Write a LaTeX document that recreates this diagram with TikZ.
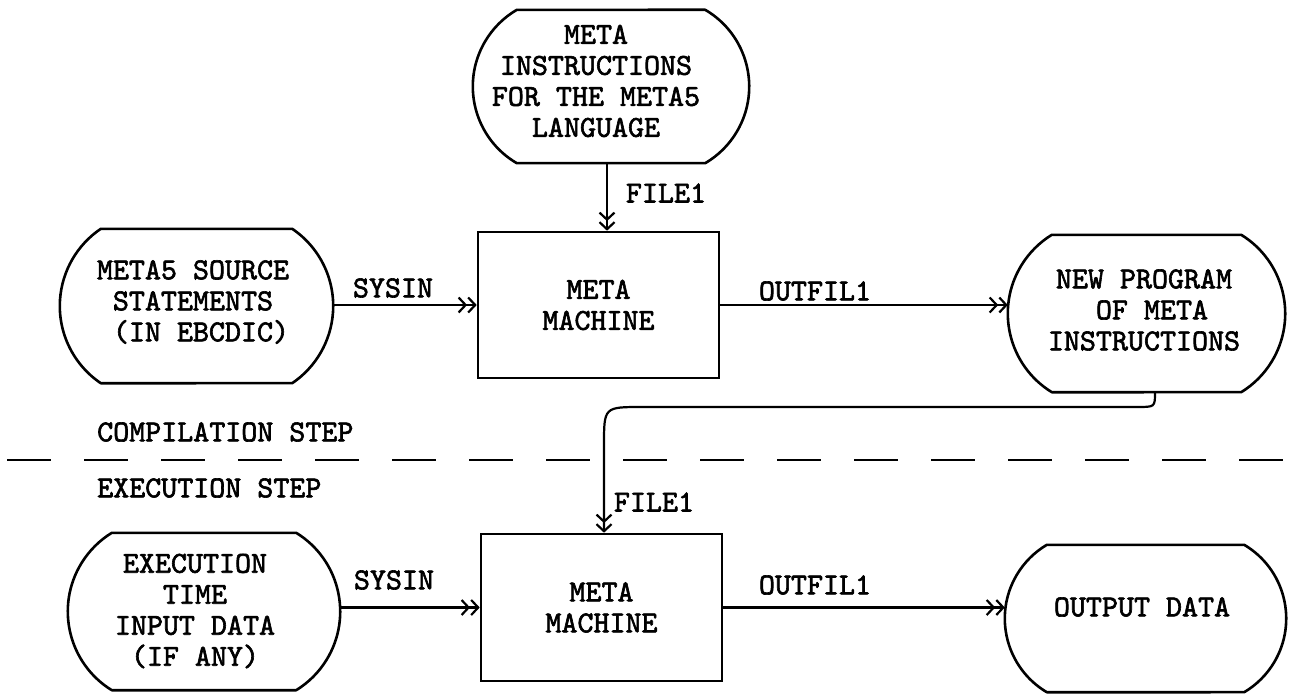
\documentclass[tikz,border=0pt]{standalone}
\usepackage{fontspec}
\newfontfamily\tw{lmmono10-regular.otf}[FakeBold=2]
\usetikzlibrary{arrows.meta,calc}
\tikzset{
  txt/.style={font=\tw\fontsize{30.5}{31}\selectfont, inner sep=0pt, align=center},
  termnode/.style={inner sep=0pt},
  box/.style={txt, draw, line width=2.6pt},
  shapeline/.style={line width=2.6pt, line join=round},
  arr/.style={line width=2.2pt, -{Straight Barb[length=7pt,width=15pt] Straight Barb[length=7pt,width=15pt]}},
  divider/.style={line width=2.6pt, dash pattern=on 44pt off 33pt}
}
\newcommand\termdraw[2]{%
  \draw[shapeline] let \p1=(#1.north west), \p2=(#1.south east),
    \n1={(\y1-\y2)/2}, \n2={(\n1*\n1+#2*#2)/(2*#2)}, \n3={asin(\n1/\n2)} in
    (\x2-#2pt,\y1) arc[start angle=\n3, end angle=-\n3, radius=\n2]
    -- (\x1+#2pt,\y2) arc[start angle=180+\n3, end angle=180-\n3, radius=\n2] -- cycle;}
\begin{document}
\begin{tikzpicture}[x=1pt,y=-1pt]
\useasboundingbox (0,0) rectangle (1289,695);
% terminal shapes
\node[termnode, minimum width=276pt, minimum height=153pt] (top) at (611,86.5) {};
\termdraw{top}{44}
\node[txt] (topt) at (596,81) {META\\INSTRUCTIONS\\FOR THE META5\\LANGUAGE};
\node[termnode, minimum width=273pt, minimum height=154pt] (src) at (196.5,306) {};
\termdraw{src}{41}
\node[txt] (srct) at (193,302) {META5 SOURCE\\STATEMENTS\\\phantom{X}(IN EBCDIC)};
\node[termnode, minimum width=277pt, minimum height=157pt] (newp) at (1146.5,313.5) {};
\termdraw{newp}{44}
\node[txt] (newpt) at (1144,310) {NEW PROGRAM\\\phantom{X}OF META\\INSTRUCTIONS};
\node[termnode, minimum width=272pt, minimum height=157pt] (exe) at (204,611.5) {};
\termdraw{exe}{44}
\node[txt] (exet) at (195,611) {EXECUTION\\TIME\\INPUT DATA\\(IF ANY)};
\node[termnode, minimum width=281pt, minimum height=147pt] (out) at (1145.5,618.5) {};
\termdraw{out}{42}
\node[txt] (outt) at (1142,607) {OUTPUT DATA};
% boxes
\node[box, minimum width=241pt, minimum height=146pt] (m1) at (598.5,305) {META\\MACHINE};
\node[box, minimum width=241pt, minimum height=147pt] (m2) at (601.5,607.5) {META\\MACHINE};
% divider and section labels
\coordinate (dl) at (7,460);
\coordinate (dr) at (1289,460);
\draw[divider] (dl) -- (dr);
\node[txt, anchor=west] (comp) at (97,432) {COMPILATION STEP};
\node[txt, anchor=west] (exec) at (97,488) {EXECUTION STEP};
% connectors
\coordinate (a1) at (607,200);
\draw[arr] (top.south -| a1) -- (m1.north -| a1);
\node[txt] (lf1) at (666,193) {FILE1};
\draw[arr] (src.east |- m1.west) -- (m1.west);
\node[txt] (ls1) at (393,288) {SYSIN};
\draw[arr] (m1.east) -- (m1.east -| newp.west);
\node[txt] (lo1) at (815,291) {OUTFIL1};
\coordinate (s) at ($(newp.south)+(8.5,0)$);
\coordinate (f2) at (604,407);
\coordinate (c1) at (s |- f2);
\draw[arr] (s) .. controls (c1) .. ($(c1)+(-18,0)$) -- ($(f2)+(38,0)$) .. controls (f2) .. ($(f2)+(0,38)$) -- (f2 |- m2.north);
\node[txt] (lf2) at (654,502) {FILE1};
\draw[arr] (exe.east |- m2.west) -- (m2.west);
\node[txt] (ls2) at (394,580) {SYSIN};
\draw[arr] (m2.east) -- (m2.east -| out.west);
\node[txt] (lo2) at (815,585) {OUTFIL1};
\end{tikzpicture}
\end{document}
